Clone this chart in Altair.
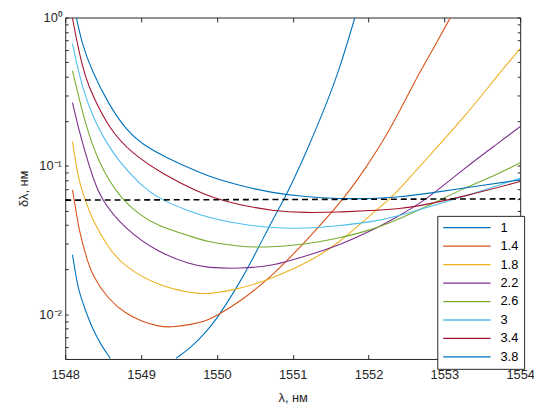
import altair as alt
import pandas as pd

# ---------------- data ----------------
series_names = ["1", "1.4", "1.8", "2.2", "2.6", "3", "3.4", "3.8"]
series_colors = ["#0072BD", "#D95319", "#EDB120", "#7E2F8E", "#77AC30", "#4DBEEE", "#A2142F", "#0072BD"]

# series "1" has two visible branches (it dips below the axis range)
lam_1a = [1548.095, 1548.14, 1548.18, 1548.27, 1548.355, 1548.465, 1548.595]
val_1a = [0.0252, 0.0183, 0.0142, 0.0105, 0.0081, 0.00628, 0.00505]
lam_1b = [1549.46, 1549.66, 1549.87, 1550.0, 1550.09, 1550.31, 1550.53, 1550.74, 1550.886, 1551.01, 1551.17, 1551.39, 1551.61, 1551.82]
val_1b = [0.00505, 0.00597, 0.0077, 0.00944, 0.011, 0.0166, 0.0269, 0.044, 0.0593, 0.0805, 0.121, 0.223, 0.433, 1.0]

lam_14 = [1548.095, 1548.14, 1548.18, 1548.27, 1548.355, 1548.573, 1548.79, 1549.0, 1549.22, 1549.4, 1549.66, 1549.87, 1550.0, 1550.31, 1550.74, 1551.17, 1551.67, 1551.956, 1552.17, 1552.39, 1552.61, 1552.825, 1553.08]
val_14 = [0.069, 0.0508, 0.0374, 0.0249, 0.0183, 0.0125, 0.0102, 0.00898, 0.00831, 0.00815, 0.00853, 0.00907, 0.0098, 0.0122, 0.0183, 0.031, 0.0593, 0.096, 0.141, 0.223, 0.372, 0.58, 1.0]

lam_18 = [1548.095, 1548.14, 1548.18, 1548.26, 1548.355, 1548.573, 1548.79, 1549.22, 1549.66, 1549.87, 1550.31, 1550.74, 1551.17, 1551.6, 1552.04, 1552.28, 1552.39, 1552.825, 1553.26, 1553.69, 1554.0]
val_18 = [0.146, 0.105, 0.080, 0.0593, 0.0436, 0.0276, 0.0208, 0.0156, 0.0139, 0.0136, 0.0148, 0.0176, 0.0219, 0.0298, 0.0476, 0.0598, 0.068, 0.121, 0.212, 0.40, 0.618]

lam_22 = [1548.095, 1548.18, 1548.27, 1548.355, 1548.47, 1548.79, 1549.22, 1549.66, 1549.87, 1550.31, 1550.74, 1551.17, 1551.6, 1552.04, 1552.4, 1552.765, 1553.26, 1553.69, 1554.0]
val_22 = [0.267, 0.175, 0.12, 0.0865, 0.0593, 0.0374, 0.0262, 0.0216, 0.0206, 0.0203, 0.0212, 0.0247, 0.029, 0.0365, 0.046, 0.0593, 0.096, 0.14, 0.184]

lam_26 = [1548.095, 1548.18, 1548.27, 1548.355, 1548.443, 1548.573, 1548.74, 1548.963, 1549.22, 1549.66, 1549.87, 1550.31, 1550.61, 1551.17, 1551.6, 1552.04, 1552.39, 1552.825, 1553.26, 1553.69, 1554.0]
val_26 = [0.438, 0.288, 0.191, 0.141, 0.108, 0.080, 0.0607, 0.0474, 0.0393, 0.0335, 0.0308, 0.0286, 0.0281, 0.0296, 0.0325, 0.037, 0.0436, 0.0549, 0.0709, 0.087, 0.105]

lam_30 = [1548.095, 1548.18, 1548.27, 1548.355, 1548.443, 1548.573, 1548.703, 1548.963, 1549.245, 1549.66, 1549.87, 1550.31, 1550.74, 1551.17, 1551.6, 1552.04, 1552.39, 1552.825, 1553.26, 1554.0]
val_30 = [0.668, 0.418, 0.29, 0.223, 0.178, 0.136, 0.1087, 0.0767, 0.0593, 0.049, 0.0452, 0.0403, 0.0382, 0.0378, 0.0394, 0.0419, 0.0459, 0.0535, 0.0623, 0.0826]

lam_34 = [1548.095, 1548.18, 1548.27, 1548.355, 1548.573, 1548.876, 1549.31, 1549.744, 1549.98, 1550.265, 1550.74, 1551.17, 1551.6, 1552.04, 1552.39, 1552.825, 1553.26, 1554.0]
val_34 = [0.99, 0.588, 0.391, 0.303, 0.18, 0.121, 0.0868, 0.067, 0.0604, 0.0551, 0.0496, 0.0483, 0.0488, 0.0501, 0.051, 0.0557, 0.0623, 0.0784]

lam_38 = [1548.147, 1548.225, 1548.355, 1548.573, 1548.81, 1549.006, 1549.31, 1549.744, 1550.0, 1550.265, 1550.74, 1551.17, 1551.6, 1552.04, 1552.4, 1552.825, 1553.26, 1554.0]
val_38 = [1.0, 0.652, 0.433, 0.259, 0.173, 0.141, 0.115, 0.0914, 0.0815, 0.0745, 0.0656, 0.0618, 0.0601, 0.0601, 0.0615, 0.0657, 0.0709, 0.0805]

# dashed reference level
lam_ref = [1548.0, 1554.0]
val_ref = [0.0588, 0.0600]

x_ticks = [1548, 1549, 1550, 1551, 1552, 1553, 1554]
y_ticks = [m * 10.0 ** e for e in (-3, -2, -1) for m in range(1, 10)] + [1.0]
y_ticks = [round(v, 6) for v in y_ticks if v >= 0.005]
decade_labels = {0: "10\u2070", -1: "10\u207b\u00b9", -2: "10\u207b\u00b2"}

# ---------------- tables ----------------
segments = [
    ("1", "1a", lam_1a, val_1a), ("1", "1b", lam_1b, val_1b),
    ("1.4", "1.4", lam_14, val_14), ("1.8", "1.8", lam_18, val_18),
    ("2.2", "2.2", lam_22, val_22), ("2.6", "2.6", lam_26, val_26),
    ("3", "3", lam_30, val_30), ("3.4", "3.4", lam_34, val_34),
    ("3.8", "3.8", lam_38, val_38),
]
rows = []
for s, b, ls, vs in segments:
    for l, v in zip(ls, vs):
        rows.append({"series": s, "branch": b, "lam": l, "val": v})
df = pd.DataFrame(rows)
df_ref = pd.DataFrame({"lam": lam_ref, "val": val_ref})

label_expr = " : ".join(
    f"abs(datum.value - {10.0 ** e}) < {10.0 ** (e - 4)} ? '{t}'" for e, t in decade_labels.items()
) + " : ''"

FONT = "Liberation Sans"
INK = "#262626"
TX, TY = 4.5, 3

x_scale = alt.Scale(domain=[1548, 1554], nice=False, zero=False)
y_scale = alt.Scale(type="log", domain=[0.005, 1], nice=False)

lines = alt.Chart(df).mark_line(strokeWidth=1.1, clip=True, interpolate="basis").encode(
    x=alt.X("lam:Q", scale=x_scale,
            axis=alt.Axis(orient="bottom", values=x_ticks, format="d", title="λ, нм",
                          offset=-TX, tickSize=TX, domain=False, grid=False,
                          labelPadding=10, labelFlush=False, titlePadding=10)),
    y=alt.Y("val:Q", scale=y_scale,
            axis=alt.Axis(orient="left", values=y_ticks, labelExpr=label_expr, title="δλ, нм",
                          offset=-TY, tickSize=TY, domain=False, grid=False,
                          labelPadding=4, labelOverlap=False, titlePadding=8)),
    color=alt.Color("series:N", sort=series_names,
                    scale=alt.Scale(domain=series_names, range=series_colors),
                    legend=alt.Legend(title=None, orient="none", legendX=377, legendY=201,
                                      symbolType="M-4,0H4", symbolSize=144, symbolStrokeWidth=1.3,
                                      symbolOffset=18,
                                      labelFont=FONT, labelFontSize=13, labelColor="#000000",
                                      labelOffset=27, rowPadding=4.7, padding=5,
                                      strokeColor=INK, fillColor="white")),
    detail="branch:N",
)

ref = alt.Chart(df_ref).mark_line(color="#000000", strokeDash=[6, 4], strokeWidth=1.6).encode(
    x=alt.X("lam:Q", scale=x_scale,
            axis=alt.Axis(orient="top", values=x_ticks, labels=False, title=None,
                          offset=-TX, tickSize=TX, domain=False, grid=False)),
    y=alt.Y("val:Q", scale=y_scale,
            axis=alt.Axis(orient="right", values=y_ticks, labels=False, title=None,
                          offset=-TY, tickSize=TY, domain=False, grid=False)),
)

chart = (
    alt.layer(lines, ref)
    .resolve_axis(x="independent", y="independent")
    .properties(width=461, height=346,
                padding={"left": 58, "top": 7, "right": 14, "bottom": 44},
                autosize=alt.AutoSizeParams(type="none"))
    .configure_view(stroke=INK, strokeWidth=1)
    .configure_axis(labelFont=FONT, labelFontSize=13, labelColor=INK,
                    tickColor=INK, tickWidth=1,
                    titleFont=FONT, titleFontSize=13, titleColor=INK, titleFontWeight="normal")
)

chart.save("out.html", embed_options={"renderer": "svg", "actions": False})
